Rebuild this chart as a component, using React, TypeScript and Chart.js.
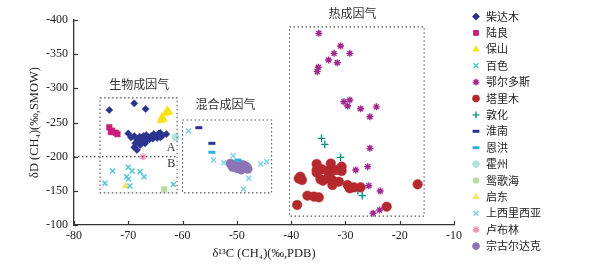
import React, { useEffect, useRef } from 'react';
import { Chart, registerables } from 'chart.js';
import { drawPoint } from 'chart.js/helpers';
Chart.register(...registerables);

// ---------- data ----------
const xTickValues = [-80, -70, -60, -50, -40, -30, -20, -10];
const yTickValues = [-400, -350, -300, -250, -200, -150, -100];

const seriesNames = ['柴达木', '陆良', '保山', '百色', '鄂尔多斯', '塔里木', '敦化', '淮南', '恩洪', '霍州', '鸳歌海', '启东', '上西里西亚', '卢布林', '宗古尔达克'];

const qaidamu = [
  [-73.5, -268.3], [-68.9, -278], [-66.8, -269.8],
  [-70.0, -234.0], [-69.5, -228.3], [-68.9, -230.2], [-68.4, -224.4], [-67.9, -229.3], [-67.5, -226.8],
  [-67.2, -230.2], [-66.7, -231.6], [-66.3, -228.3], [-65.8, -230.2], [-65.3, -233.0], [-64.9, -230.2],
  [-64.4, -234.0], [-64.1, -234.7], [-63.8, -230.2], [-63.0, -233.0], [-68.7, -219.5], [-68.1, -220.5],
  [-67.3, -221.9], [-66.7, -223.4], [-66.1, -225.4], [-65.5, -226.4], [-64.7, -227.3], [-64.1, -228.3],
  [-68.9, -213.7], [-68.4, -209.8], [-67.8, -217.1], [-66.9, -219.5],
];
const luliang = [[-73.5, -243], [-73.0, -238], [-72.3, -235], [-72.0, -233], [-73.2, -236]];
const baoshan = [[-63.8, -258], [-63.2, -263], [-62.8, -268], [-63.5, -255], [-64.0, -253], [-62.5, -265]];
const baise = [
  [-74.3, -161], [-72.9, -179], [-70.0, -184.4], [-69.3, -179], [-70.3, -170.7], [-70.0, -167.3],
  [-67.8, -178], [-67.1, -170.7], [-69.7, -157], [-61.7, -159.4],
];
const ordos = [
  [-34.9, -380.5], [-30.9, -362], [-32.1, -351.2], [-29.2, -351.2], [-33.1, -341.5], [-31.5, -337.5],
  [-35.0, -330.8], [-35.2, -324.4], [-30.3, -280.4], [-29.2, -282.9], [-29.6, -274.1], [-27.2, -270.2],
  [-24.3, -272.9], [-25.5, -258.5], [-25.5, -212.2], [-28.1, -180.5], [-25.9, -185.4], [-25.7, -157.5],
  [-23.6, -149.7], [-23.7, -122], [-24.9, -117.1],
];
const tarim = [
  [-35.3, -189.3], [-32.7, -190], [-38.3, -170.7], [-38.0, -165.8], [-38.6, -168], [-35.3, -180.5],
  [-34.3, -181.5], [-33.3, -179.5], [-32.4, -179.5], [-31.5, -180.5], [-30.7, -179], [-30.7, -185.4],
  [-35.3, -176.6], [-34.6, -166.8], [-34.1, -164.8], [-33.3, -168.3], [-32.4, -165.8], [-32.4, -158.5],
  [-31.2, -163.4], [-29.6, -158.5], [-29.2, -153.7], [-28.4, -155.1], [-27.2, -155.1], [-37.0, -142.9],
  [-35.8, -141.5], [-34.9, -140.5], [-38.9, -129.3], [-16.7, -159.5], [-22.4, -126.8],
];
const dunhua = [[-34.4, -226.8], [-33.8, -218], [-30.9, -199], [-27.7, -150.2], [-26.9, -143]];
const huainan = [[-57.0, -242.4], [-54.6, -219.5]];
const enhong = [[-54.6, -206.4], [-49.8, -195.1]];
const huozhou = [[-61.3, -228.3]];
const yinggehai = [[-63.4, -152.2]];
const qidong = [[-70.5, -157]];
const upperSilesia = [
  [-58.9, -237.6], [-54.3, -195.1], [-52.4, -191.2], [-50.7, -201.4], [-47.8, -168.3],
  [-48.8, -152.7], [-45.6, -189.3], [-44.5, -192.6],
];
const lublin = [[-67.3, -200]];
const zongguer = [
  [-51.2, -190], [-50.5, -188], [-49.8, -186], [-49.0, -188], [-48.2, -185], [-48.0, -182],
  [-49.2, -181], [-50.0, -183], [-50.8, -185], [-48.6, -186.5], [-49.5, -184],
];

const seriesData = [qaidamu, luliang, baoshan, baise, ordos, tarim, dunhua, huainan, enhong, huozhou, yinggehai, qidong, upperSilesia, lublin, zongguer];
const seriesColors = ['#2b3590', '#c81e7c', '#f5e21b', '#4ec3d4', '#a3278f', '#b5282e', '#0f8f83', '#2e3192', '#27b4e0', '#b3e3e0', '#b8dba0', '#f8df6a', '#7fcdef', '#f38fb0', '#8d74b6'];
const seriesStyles = ['rectRot', 'rect', 'triangle', 'crossRot', 'star', 'circle', 'cross', 'line', 'line', 'circle', 'rect', 'triangle', 'crossRot', 'star', 'circle'];
const seriesRadius = [3.6, 4, 4.5, 3.5, 3.5, 4.8, 3.8, 3.5, 3.5, 3.8, 4, 4, 3.5, 3.5, 4.6];

// region annotations [xMin, xMax, yMin(top), yMax(bottom)]
const bioBox = [-75.2, -61.0, -286, -147];
const mixBox = [-60.0, -43.6, -253.6, -147];
const thermoBox = [-40.3, -15.5, -390, -113];
const regionLabels = [
  { text: '生物成因气', x: -68, y: -305 },
  { text: '混合成因气', x: -52.1, y: -276 },
  { text: '热成因气', x: -28.7, y: -410 },
];
const subLabels = [
  { text: 'A', x: -62.1, y: -212.7 },
  { text: 'B', x: -62.1, y: -189.3 },
];

const isLineStyle = (s: string) => s === 'cross' || s === 'crossRot' || s === 'star' || s === 'line';

const overlayPlugin = {
  id: 'overlay',
  afterDatasetsDraw(chart: any) {
    const { ctx, scales } = chart;
    const xs = scales.x, ys = scales.y;
    ctx.save();
    // inside ticks
    ctx.strokeStyle = '#333';
    ctx.lineWidth = 1.2;
    ctx.setLineDash([]);
    xTickValues.forEach((v) => {
      const px = Math.round(xs.getPixelForValue(v)) + 0.5;
      ctx.beginPath();
      ctx.moveTo(px, ys.bottom);
      ctx.lineTo(px, ys.bottom - 4);
      ctx.stroke();
    });
    yTickValues.forEach((v) => {
      const py = Math.round(ys.getPixelForValue(v)) + 0.5;
      ctx.beginPath();
      ctx.moveTo(xs.left, py);
      ctx.lineTo(xs.left + 4, py);
      ctx.stroke();
    });
    // dotted boxes
    ctx.strokeStyle = '#555';
    ctx.lineWidth = 1.1;
    ctx.setLineDash([1.5, 2.5]);
    [bioBox, mixBox, thermoBox].forEach((b) => {
      const x1 = xs.getPixelForValue(b[0]);
      const x2 = xs.getPixelForValue(b[1]);
      const y1 = ys.getPixelForValue(b[2]);
      const y2 = ys.getPixelForValue(b[3]);
      ctx.strokeRect(x1, y1, x2 - x1, y2 - y1);
    });
    // dotted -200 line
    const y200 = ys.getPixelForValue(-200);
    ctx.beginPath();
    ctx.moveTo(xs.left, y200);
    ctx.lineTo(xs.getPixelForValue(bioBox[1]), y200);
    ctx.stroke();
    ctx.setLineDash([]);
    // labels
    ctx.fillStyle = '#333';
    ctx.textAlign = 'center';
    ctx.textBaseline = 'middle';
    ctx.font = '12px "Noto Sans CJK SC"';
    regionLabels.forEach((l) => ctx.fillText(l.text, xs.getPixelForValue(l.x), ys.getPixelForValue(l.y)));
    ctx.font = '12px "Liberation Serif"';
    subLabels.forEach((l) => ctx.fillText(l.text, xs.getPixelForValue(l.x), ys.getPixelForValue(l.y)));
    ctx.restore();
  },
  afterDraw(chart: any) {
    const { ctx } = chart;
    ctx.save();
    const x0 = 476;
    const y0 = 16.5;
    const step = 16.4;
    seriesNames.forEach((name, i) => {
      const y = y0 + i * step;
      const style = seriesStyles[i];
      ctx.fillStyle = seriesColors[i];
      ctx.strokeStyle = seriesColors[i];
      ctx.lineWidth = style === 'line' ? 3 : isLineStyle(style) ? 1.4 : 1;
      drawPoint(ctx, { pointStyle: style, radius: 3.4, rotation: 0, borderWidth: ctx.lineWidth }, x0, y);
      ctx.fillStyle = '#222';
      ctx.font = '11px "Noto Sans CJK SC"';
      ctx.textAlign = 'left';
      ctx.textBaseline = 'middle';
      ctx.fillText(name, x0 + 10, y);
    });
    ctx.restore();
  },
};

export default function App() {
  const ref = useRef<HTMLCanvasElement | null>(null);
  useEffect(() => {
    if (!ref.current) return;
    const datasets = seriesNames.map((name, i) => {
      const style = seriesStyles[i];
      const lineish = isLineStyle(style);
      return {
        label: name,
        data: seriesData[i].map((p) => ({ x: p[0], y: p[1] })),
        pointStyle: style,
        pointRadius: seriesRadius[i],
        pointHoverRadius: seriesRadius[i],
        backgroundColor: seriesColors[i],
        borderColor: seriesColors[i],
        pointBorderWidth: style === 'line' ? 3 : lineish ? 1.4 : 0.5,
        showLine: false,
      };
    });
    const chart = new Chart(ref.current, {
      type: 'scatter',
      data: { datasets },
      options: {
        animation: false,
        responsive: false,
        events: [],
        layout: { padding: { left: 23, top: 20, right: 143, bottom: 0 } },
        plugins: { legend: { display: false }, tooltip: { enabled: false } },
        scales: {
          x: {
            type: 'linear',
            min: -80,
            max: -10,
            afterFit: (s: any) => { s.height = 39; },
            ticks: { stepSize: 10, color: '#222', font: { family: 'Liberation Serif', size: 12 }, padding: 4, maxRotation: 0 },
            grid: { display: true, drawOnChartArea: false, drawTicks: false },
            border: { display: true, color: '#333', width: 1.3 },
            title: { display: true, text: 'δ¹³C (CH₄)(‰,PDB)', color: '#222', font: { family: 'Liberation Serif', size: 12.5 }, padding: { top: 0, bottom: 3 } },
          },
          y: {
            type: 'linear',
            min: -400,
            max: -100,
            reverse: true,
            afterFit: (s: any) => { s.width = 51; },
            ticks: { stepSize: 50, color: '#222', font: { family: 'Liberation Serif', size: 12 }, padding: 6 },
            grid: { display: true, drawOnChartArea: false, drawTicks: false },
            border: { display: true, color: '#333', width: 1.3 },
            title: { display: true, text: 'δD (CH₄)(‰,SMOW)', color: '#222', font: { family: 'Liberation Serif', size: 12.5 }, padding: { top: 4, bottom: 4 } },
          },
        },
      } as any,
      plugins: [overlayPlugin],
    });
    return () => chart.destroy();
  }, []);
  return (
    <div style={{ position: 'fixed', left: 0, top: 0, width: 597, height: 264, background: '#fff' }}>
      <canvas ref={ref} width={597} height={264} style={{ width: 597, height: 264, display: 'block' }} />
    </div>
  );
}
